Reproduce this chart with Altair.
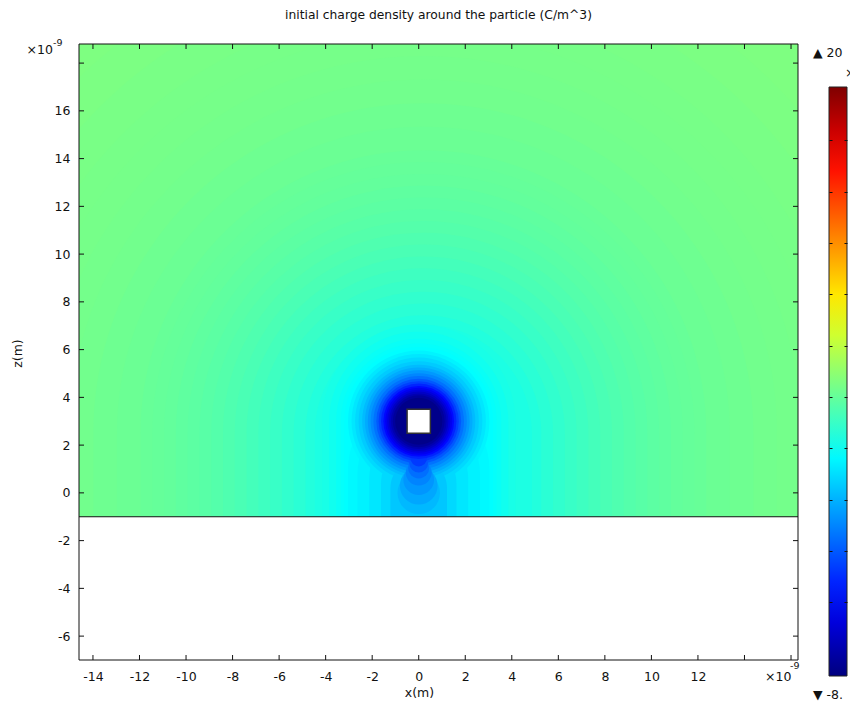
import altair as alt
import pandas as pd

# ---------------- text ----------------
TITLE = "initial charge density around the particle (C/m^3)"
X_TITLE = "x(m)"
Z_TITLE = "z(m)"
EXP_TEXT = "×10"
EXP_SUP = "-9"
CB_MAX_TEXT = "▲ 20"
CB_MIN_TEXT = "▼ -8."

# ---------------- axes (units of 1e-9 m) ----------------
x_domain = [-14.6, 16.3]
z_domain = [-7.0, 18.8]
x_ticks = [-14, -12, -10, -8, -6, -4, -2, 0, 2, 4, 6, 8, 10, 12, 14, 16]
x_labels = [-14, -12, -10, -8, -6, -4, -2, 0, 2, 4, 6, 8, 10, 12]
z_ticks = [-6, -4, -2, 0, 2, 4, 6, 8, 10, 12, 14, 16, 18]
z_labels = [-6, -4, -2, 0, 2, 4, 6, 8, 10, 12, 14, 16]

# geometry
interface_z = -1.0
particle_x = [-0.5, 0.5]
particle_z = [2.5, 3.5]

# colour range (C/m^3) and colour-bar ticks
color_min, color_max = -8.6, 20.1
colorbar_ticks = [-5.0, -2.5, 0.0, 2.5, 5.0, 7.5, 10.0, 12.5, 15.0, 17.5]

# charge density: far-field value and iso-value regions
# ("capsule" = disc whose contour runs straight down to the interface)
background_value = 5.72

# far field, around (0.2, 2.5)
far_x = [0.2] * 25
far_z = [2.5] * 25
far_r = [23, 21, 19.5, 18, 17, 16, 15, 14, 13, 12, 11.5, 11, 10.5, 10, 9.5,
         9, 8.5, 8, 7.5, 7, 6.5, 6, 5.5, 5, 4.6]
far_v = [5.70, 5.64, 5.58, 5.52, 5.48, 5.42, 5.36, 5.27, 5.17, 5.06, 5.00,
         4.94, 4.84, 4.74, 4.63, 4.52, 4.38, 4.24, 4.08, 3.92, 3.74, 3.55,
         3.34, 3.12, 2.95]
far_kind = ["capsule"] * 25

# around the particle (0, 3)
near_x = [0] * 24
near_z = [3] * 24
near_r = [4.1, 3.8, 3.5, 3.3, 3.15,
          3.0, 2.85, 2.7, 2.55, 2.4, 2.28, 2.16, 2.04, 1.92, 1.8,
          1.7, 1.6, 1.5, 1.42, 1.34, 1.26, 1.18, 1.1, 1.0]
near_v = [2.85, 2.62, 2.42, 2.28, 2.16,
          1.85, 1.5, 1.1, 0.7, 0.25, -0.2, -0.7, -1.2, -1.8, -2.5,
          -3.2, -4.0, -4.8, -5.4, -6.0, -6.6, -7.2, -7.8, -8.3]
near_kind = ["capsule"] * 5 + ["disc"] * 19

# column between the particle and the interface
col_x = [0] * 12
col_z = [1.0, 0.8, 0.6, 0.4, 0.2, 0.0, 0.3, 0.55, 0.85, 1.05, 1.25, 1.45]
col_r = [3.0, 2.6, 2.1, 1.6, 1.2, 0.9, 0.8, 0.65, 0.55, 0.45, 0.4, 0.35]
col_v = [2.0, 1.8, 1.5, 1.1, 0.6, 0.2, -0.3, -0.8, -1.3, -1.9, -2.6, -3.4]
col_kind = ["capsule"] * 5 + ["disc"] * 7

# ---------------- layout ----------------
W, H = 719, 616
PAD = {"left": 79, "top": 44, "right": 52, "bottom": 44}
FONT = "DejaVu Sans"
TXT = "#111111"
FS = 12.5
CB_LEFT, CB_TOP, CB_LEN, CB_THICK = 750, 43, 589, 18

xs = alt.Scale(domain=x_domain, zero=False, nice=False)
zs = alt.Scale(domain=z_domain, zero=False, nice=False)

jet_fracs = [0, 0.125, 0.375, 0.625, 0.875, 1]
jet_colors = ["#00007f", "#0000ff", "#00ffff", "#ffff00", "#ff0000", "#7f0000"]
cs = alt.Scale(domain=[color_min + f * (color_max - color_min) for f in jet_fracs],
               range=jet_colors, interpolate="rgb", clamp=True)

ppu = (W / (x_domain[1] - x_domain[0]) + H / (z_domain[1] - z_domain[0])) / 2
r_max = 25
ss = alt.Scale(type="pow", exponent=2, domain=[0, r_max],
               range=[0, (2 * r_max * ppu) ** 2])
CAPSULE = "M-1,0A1,1,0,0,1,1,0L1,60L-1,60Z"
shape_scale = alt.Scale(domain=["disc", "capsule"], range=["circle", CAPSULE])

legend = alt.Legend(orient="none", legendX=CB_LEFT, legendY=CB_TOP, direction="vertical",
                    gradientLength=CB_LEN, gradientThickness=CB_THICK, title=None,
                    labelExpr="''", labelOpacity=0, gradientStrokeColor="#222222",
                    gradientStrokeWidth=1, padding=0)

x_axis = alt.Axis(values=x_labels, ticks=False, tickSize=0, domain=False, grid=False,
                  labelFont=FONT, labelFontSize=FS, labelColor=TXT, labelPadding=10,
                  labelExpr="'' + datum.value", labelOverlap=False, labelFlush=False,
                  title=X_TITLE, titleFont=FONT, titleFontSize=FS, titleFontWeight="normal",
                  titleColor=TXT, titleX=340, titleY=32, titleBaseline="middle",
                  titleAlign="center")
y_axis = alt.Axis(values=z_labels, ticks=False, tickSize=0, domain=False, grid=False,
                  labelFont=FONT, labelFontSize=FS, labelColor=TXT, labelPadding=9,
                  labelExpr="'' + datum.value", labelOverlap=False, labelFlush=False,
                  title=Z_TITLE, titleFont=FONT, titleFontSize=FS, titleFontWeight="normal",
                  titleColor=TXT, titleX=-62, titleY=309, titleAngle=270,
                  titleBaseline="middle", titleAlign="center")

X = lambda f: alt.X(f, type="quantitative", scale=xs, axis=x_axis)
Y = lambda f: alt.Y(f, type="quantitative", scale=zs, axis=y_axis)

# background field (above the interface)
bg_df = pd.DataFrame({"x": [x_domain[0]], "x2": [x_domain[1]],
                      "z": [interface_z], "z2": [z_domain[1]], "v": [background_value]})
bg = alt.Chart(bg_df).mark_rect(clip=True).encode(
    x=X("x"), x2="x2", y=Y("z"), y2="z2",
    color=alt.Color("v:Q", scale=cs, legend=legend))

# iso-value regions, drawn from high to low value
blob_df = pd.DataFrame({
    "x": far_x + near_x + col_x,
    "z": far_z + near_z + col_z,
    "r": far_r + near_r + col_r,
    "v": far_v + near_v + col_v,
    "k": far_kind + near_kind + col_kind,
})
blob_df = blob_df.sort_values("v", ascending=False, kind="stable").reset_index(drop=True)
blobs = alt.Chart(blob_df).mark_point(filled=True, opacity=1,
                                      strokeWidth=0, clip=True).encode(
    x=X("x"), y=Y("z"),
    size=alt.Size("r:Q", scale=ss, legend=None),
    shape=alt.Shape("k:N", scale=shape_scale, legend=None),
    color=alt.Color("v:Q", scale=cs, legend=legend))

# white region below the interface
below_df = pd.DataFrame({"x": [x_domain[0]], "x2": [x_domain[1]],
                         "z": [z_domain[0]], "z2": [interface_z]})
below = alt.Chart(below_df).mark_rect(color="white", clip=True).encode(
    x=X("x"), x2="x2", y=Y("z"), y2="z2")

# interface line
iface = alt.Chart(pd.DataFrame({"z": [interface_z]})).mark_rule(
    color="#111111", strokeWidth=1.2).encode(y=Y("z"), x=alt.value(0), x2=alt.value(W))

# particle
part_df = pd.DataFrame({"x": [particle_x[0]], "x2": [particle_x[1]],
                        "z": [particle_z[0]], "z2": [particle_z[1]]})
particle = alt.Chart(part_df).mark_rect(fill="white", stroke="#333333",
                                        strokeWidth=1.5).encode(
    x=X("x"), x2="x2", y=Y("z"), y2="z2")

# inward ticks on all four sides
xt = pd.DataFrame({"x": x_ticks})
zt = pd.DataFrame({"z": z_ticks})
tk = dict(color="#111111", strokeWidth=1)
t_bottom = alt.Chart(xt).mark_rule(**tk).encode(x=X("x"), y=alt.value(H), y2=alt.value(H - 5))
t_top = alt.Chart(xt).mark_rule(**tk).encode(x=X("x"), y=alt.value(0), y2=alt.value(5))
t_left = alt.Chart(zt).mark_rule(**tk).encode(y=Y("z"), x=alt.value(0), x2=alt.value(5))
t_right = alt.Chart(zt).mark_rule(**tk).encode(y=Y("z"), x=alt.value(W), x2=alt.value(W - 5))

# frame
frame = alt.Chart(pd.DataFrame({"a": [0]})).mark_rect(
    fillOpacity=0, stroke="#111111", strokeWidth=1).encode(
    x=alt.value(0), x2=alt.value(W), y=alt.value(0), y2=alt.value(H))


def label(text, x, y, size=FS, align="left"):
    return alt.Chart(pd.DataFrame({"t": [text]})).mark_text(
        font=FONT, fontSize=size, color=TXT, align=align, baseline="middle").encode(
        text="t:N", x=alt.value(x), y=alt.value(y))


texts = [
    label(TITLE, W / 2, -29, size=12.3, align="center"),
    label(EXP_TEXT, -26, 6, align="right"),
    label(EXP_SUP, -26, -1, size=9.5),
    label(EXP_TEXT, 686, 633),
    label(EXP_SUP, 711, 622, size=9.5),
    label(CB_MAX_TEXT, 734, 9),
    label(CB_MIN_TEXT, 734, 651),
    label(EXP_TEXT, 766, 29),
]

main = alt.layer(bg, blobs, below, iface, particle,
                 t_bottom, t_top, t_left, t_right, frame, *texts)

# colour-bar tick marks: two axes on a scale matching the colour bar
cbt = pd.DataFrame({"c": colorbar_ticks})


def cb_axis(orient, offset):
    return alt.Axis(orient=orient, offset=offset, values=colorbar_ticks, labels=False,
                    domain=False, grid=False, ticks=True, tickSize=3, tickWidth=1,
                    tickColor="#111111", title=None, zindex=2)


cb_scale = alt.Scale(domain=[color_min, color_max], range=[CB_TOP + CB_LEN, CB_TOP],
                     zero=False, nice=False)
cb_left = alt.Chart(cbt).mark_rule(opacity=0).encode(
    y=alt.Y("c:Q", scale=cb_scale, axis=cb_axis("right", CB_LEFT - W)))
cb_right = alt.Chart(cbt).mark_rule(opacity=0).encode(
    y=alt.Y("c:Q", scale=cb_scale, axis=cb_axis("left", -(CB_LEFT + CB_THICK))))

chart = alt.layer(main, cb_left, cb_right).resolve_scale(y="independent").properties(
    width=W, height=H, padding=PAD,
    autosize=alt.AutoSizeParams(type="none"),
    background="white",
).configure_view(strokeWidth=0)

chart.save("out.html", embed_options={"renderer": "svg", "actions": False})
